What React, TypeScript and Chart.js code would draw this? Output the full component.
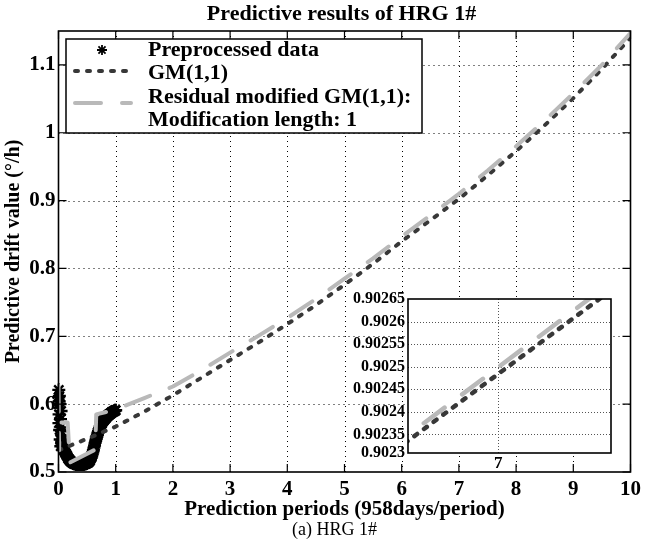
import React, { useEffect, useRef } from 'react';
import { Chart, registerables } from 'chart.js';

Chart.register(...registerables);

const SERIF = '"Liberation Serif", "Times New Roman", Times, serif';

// ---- text ----
const chartTitle = 'Predictive results of HRG 1#';
const captionText = '(a) HRG 1#';
const xAxisTitle = 'Prediction periods (958days/period)';
const yAxisTitle = 'Predictive drift value (°/h)';
const legendTexts = ['Preprocessed data', 'GM(1,1)', 'Residual modified GM(1,1):', 'Modification length: 1'];

// ---- main axes ----
const xRange = [0, 10];
const yRange = [0.5, 1.15];
const xTicks = [0, 1, 2, 3, 4, 5, 6, 7, 8, 9, 10];
const yTicks = [0.5, 0.6, 0.7, 0.8, 0.9, 1, 1.1];

// ---- preprocessed data (asterisks) ----
const dataX = [
  0, 0.0025, 0.005, 0.0075, 0.01, 0.0125, 0.015, 0.02, 0.025, 0.03, 0.035, 0.04, 0.045, 0.05, 0.055, 0.06, 0.07, 0.08,
  0.09, 0.10, 0.11, 0.12, 0.13, 0.14, 0.15, 0.16, 0.17, 0.18, 0.19,
  0.20, 0.21, 0.22, 0.23, 0.24, 0.25, 0.26, 0.27, 0.28, 0.29,
  0.30, 0.31, 0.32, 0.33, 0.34, 0.35, 0.36, 0.37, 0.38, 0.39,
  0.40, 0.41, 0.42, 0.43, 0.44, 0.45, 0.46, 0.47, 0.48, 0.49,
  0.50, 0.51, 0.52, 0.53, 0.54, 0.55, 0.56, 0.57, 0.58, 0.59,
  0.60, 0.61, 0.62, 0.63, 0.64, 0.65, 0.66, 0.67, 0.68, 0.69,
  0.70, 0.71, 0.72, 0.73, 0.74, 0.75, 0.76, 0.77, 0.78, 0.79,
  0.80, 0.81, 0.82, 0.83, 0.84, 0.85, 0.86, 0.87, 0.88, 0.89,
  0.90, 0.91, 0.92, 0.93, 0.94, 0.95, 0.96, 0.97, 0.98, 0.99, 1.00,
];
const dataY = [
  0.600, 0.610, 0.621, 0.572, 0.585, 0.604, 0.612, 0.562, 0.600, 0.548, 0.578, 0.538, 0.590, 0.560, 0.545, 0.542, 0.548, 0.535,
  0.533, 0.532, 0.530, 0.528, 0.527, 0.525, 0.524, 0.522, 0.520, 0.519, 0.518,
  0.517, 0.516, 0.515, 0.515, 0.514, 0.513, 0.513, 0.512, 0.512, 0.512,
  0.512, 0.511, 0.511, 0.511, 0.511, 0.511, 0.511, 0.511, 0.511, 0.511,
  0.511, 0.511, 0.511, 0.511, 0.511, 0.512, 0.512, 0.512, 0.512, 0.513,
  0.513, 0.514, 0.514, 0.515, 0.516, 0.517, 0.519, 0.521, 0.523, 0.526,
  0.529, 0.532, 0.536, 0.539, 0.543, 0.546, 0.549, 0.552, 0.555, 0.558,
  0.560, 0.563, 0.565, 0.567, 0.569, 0.571, 0.572, 0.574, 0.575, 0.576,
  0.577, 0.578, 0.579, 0.580, 0.581, 0.582, 0.583, 0.584, 0.584, 0.585,
  0.586, 0.586, 0.587, 0.588, 0.588, 0.589, 0.589, 0.590, 0.590, 0.591, 0.591,
];

// ---- GM(1,1) ----
const gmX = [0, 0.5, 1, 1.5, 2, 2.5, 3, 3.5, 4, 4.5, 5, 5.5, 6, 6.5, 7, 7.5, 8, 8.5, 9, 9.5, 10];
const gmY = [0.532, 0.549, 0.567, 0.589, 0.613, 0.639, 0.665, 0.691, 0.718, 0.746, 0.776, 0.807, 0.840, 0.871, 0.9025, 0.937, 0.973, 1.011, 1.051, 1.094, 1.140];

// ---- Residual modified GM(1,1) ----
const rmX = [0, 0.01, 0.02, 0.16, 0.20, 0.64, 0.66, 1, 1.5, 2, 2.5, 3, 3.5, 4, 4.5, 5, 5.5, 6, 6.5, 7, 7.5, 8, 8.5, 9, 9.5, 10];
const rmY = [0.627, 0.532, 0.573, 0.573, 0.514, 0.533, 0.585, 0.592, 0.609, 0.626, 0.650, 0.676, 0.701, 0.727, 0.755, 0.785, 0.815, 0.847, 0.878, 0.910, 0.944, 0.980, 1.018, 1.058, 1.100, 1.147];

// ---- inset ----
const insetXRange = [6.9976, 7.003];
const insetYRange = [0.902309, 0.90265];
const insetXTicks = [7];
const insetYTicks = [0.9023, 0.90235, 0.9024, 0.90245, 0.9025, 0.90255, 0.9026, 0.90265];
const insetYTickLabels = ['0.9023', '0.90235', '0.9024', '0.90245', '0.9025', '0.90255', '0.9026', '0.90265'];
const insetGmX = [6.997, 7.0035];
const insetGmY = [0.902299, 0.9027];
const insetRmX = [6.997, 7.0035];
const insetRmY = [0.902311, 0.902718];

// ---- styles ----
const GM_COLOR = '#383838';
const RM_COLOR = '#b9b9b9';
const GM_DASH = [3, 9];
const RM_DASH = [26, 21];
const INSET_GM_DASH = [3.5, 8.5];
const INSET_RM_DASH = [26, 22];

const pts = (xs: number[], ys: number[]) => xs.map((x, i) => ({ x, y: ys[i] }));

function drawGrid(chart: any, xt: number[], yt: number[], color: string, dash: number[]) {
  const { ctx, chartArea, scales } = chart;
  const { left, right, top, bottom } = chartArea;
  ctx.save();
  ctx.strokeStyle = color;
  ctx.lineWidth = 1;
  ctx.setLineDash(dash);
  xt.forEach((v) => {
    const px = Math.round(scales.x.getPixelForValue(v)) + 0.5;
    if (px <= left + 1 || px >= right - 1) return;
    ctx.beginPath();
    ctx.moveTo(px, top);
    ctx.lineTo(px, bottom);
    ctx.stroke();
  });
  yt.forEach((v) => {
    const py = Math.round(scales.y.getPixelForValue(v)) + 0.5;
    if (py <= top + 1 || py >= bottom - 1) return;
    ctx.beginPath();
    ctx.moveTo(left, py);
    ctx.lineTo(right, py);
    ctx.stroke();
  });
  ctx.restore();
}

function drawFrame(chart: any, xt: number[], yt: number[], tickLen: number) {
  const { ctx, chartArea, scales } = chart;
  const { left, right, top, bottom } = chartArea;
  ctx.save();
  ctx.strokeStyle = '#000';
  ctx.lineWidth = 1.6;
  ctx.setLineDash([]);
  ctx.strokeRect(left, top, right - left, bottom - top);
  if (tickLen > 0) {
    ctx.lineWidth = 1.2;
    ctx.beginPath();
    xt.forEach((v) => {
      const px = scales.x.getPixelForValue(v);
      ctx.moveTo(px, bottom);
      ctx.lineTo(px, bottom - tickLen);
      ctx.moveTo(px, top);
      ctx.lineTo(px, top + tickLen);
    });
    yt.forEach((v) => {
      const py = scales.y.getPixelForValue(v);
      ctx.moveTo(left, py);
      ctx.lineTo(left + tickLen, py);
      ctx.moveTo(right, py);
      ctx.lineTo(right - tickLen, py);
    });
    ctx.stroke();
  }
  ctx.restore();
}

function drawStar(ctx: CanvasRenderingContext2D, cx: number, cy: number, r: number) {
  ctx.beginPath();
  ctx.moveTo(cx - r, cy);
  ctx.lineTo(cx + r, cy);
  ctx.moveTo(cx, cy - r);
  ctx.lineTo(cx, cy + r);
  const d = r * Math.SQRT1_2;
  ctx.moveTo(cx - d, cy - d);
  ctx.lineTo(cx + d, cy + d);
  ctx.moveTo(cx - d, cy + d);
  ctx.lineTo(cx + d, cy - d);
  ctx.stroke();
}

const mainDecor = {
  id: 'mainDecor',
  beforeDatasetsDraw(chart: any) {
    drawGrid(chart, xTicks, yTicks, '#000', [1, 4]);
  },
  afterDatasetsDraw(chart: any) {
    drawFrame(chart, xTicks, yTicks, 8);
    const { ctx, chartArea } = chart;
    // legend
    const bx = chartArea.left + 7.5;
    const by = chartArea.top + 8;
    const bw = 356;
    const bh = 94;
    ctx.save();
    ctx.fillStyle = '#fff';
    ctx.fillRect(bx, by, bw, bh);
    ctx.strokeStyle = '#000';
    ctx.lineWidth = 1.5;
    ctx.strokeRect(bx, by, bw, bh);
    const lineX0 = bx + 9;
    const lineX1 = bx + 65;
    const textX = bx + 82;
    const rows = [by + 11, by + 34, by + 58, by + 81];
    ctx.strokeStyle = '#000';
    ctx.lineWidth = 1.8;
    drawStar(ctx, bx + 36, rows[0], 5);
    ctx.lineCap = 'round';
    ctx.lineWidth = 4;
    ctx.strokeStyle = GM_COLOR;
    ctx.setLineDash(GM_DASH);
    ctx.beginPath();
    ctx.moveTo(lineX0, by + 32);
    ctx.lineTo(lineX1, by + 32);
    ctx.stroke();
    ctx.strokeStyle = RM_COLOR;
    ctx.setLineDash(RM_DASH);
    ctx.beginPath();
    ctx.moveTo(lineX0, by + 64);
    ctx.lineTo(lineX1, by + 64);
    ctx.stroke();
    ctx.setLineDash([]);
    ctx.fillStyle = '#000';
    ctx.font = `bold 22px ${SERIF}`;
    ctx.textBaseline = 'middle';
    ctx.textAlign = 'left';
    legendTexts.forEach((t, i) => ctx.fillText(t, textX, rows[i]));
    ctx.restore();
  },
  afterDraw(chart: any) {
    const { ctx, chartArea } = chart;
    ctx.save();
    ctx.fillStyle = '#000';
    ctx.textAlign = 'center';
    ctx.textBaseline = 'middle';
    ctx.font = `bold 22px ${SERIF}`;
    ctx.fillText(chartTitle, (chartArea.left + chartArea.right) / 2 - 3, 14);
    ctx.font = `18px ${SERIF}`;
    ctx.fillText(captionText, chartArea.left + 276, 530);
    ctx.restore();
  },
};

const insetDecor = {
  id: 'insetDecor',
  beforeDraw(chart: any) {
    const { ctx, chartArea } = chart;
    ctx.save();
    ctx.fillStyle = '#fff';
    ctx.fillRect(chartArea.left, chartArea.top, chartArea.right - chartArea.left, chartArea.bottom - chartArea.top);
    ctx.restore();
  },
  beforeDatasetsDraw(chart: any) {
    drawGrid(chart, insetXTicks, insetYTicks, '#555', [1, 2]);
  },
  afterDatasetsDraw(chart: any) {
    drawFrame(chart, insetXTicks, [], 0);
  },
};

const tickFont = { family: SERIF, size: 21, weight: 'bold' as const };
const axisTitleFont = { family: SERIF, size: 21, weight: 'bold' as const };

export default function App() {
  const mainRef = useRef<HTMLCanvasElement>(null);
  const insetRef = useRef<HTMLCanvasElement>(null);

  useEffect(() => {
    document.body.style.margin = '0';
    const main = new Chart(mainRef.current as HTMLCanvasElement, {
      type: 'scatter',
      data: {
        datasets: [
          {
            label: legendTexts[2],
            data: pts(rmX, rmY),
            showLine: true,
            borderColor: RM_COLOR,
            borderWidth: 4,
            borderDash: RM_DASH,
            borderCapStyle: 'round',
            borderJoinStyle: 'round',
            pointRadius: 0,
            order: 0,
          } as any,
          {
            label: legendTexts[1],
            data: pts(gmX, gmY),
            showLine: true,
            borderColor: GM_COLOR,
            borderWidth: 4,
            borderDash: GM_DASH,
            borderCapStyle: 'round',
            borderJoinStyle: 'round',
            pointRadius: 0,
            order: 1,
          } as any,
          {
            label: legendTexts[0],
            data: pts(dataX, dataY),
            showLine: false,
            pointStyle: 'star',
            pointRadius: 6.5,
            pointBorderWidth: 2.4,
            pointBorderColor: '#000',
            pointBackgroundColor: '#000',
            clip: false,
            order: 2,
          } as any,
        ],
      },
      options: {
        animation: false,
        responsive: false,
        maintainAspectRatio: false,
        layout: { padding: { top: 31, right: 12, bottom: 21, left: 0 } },
        plugins: {
          legend: { display: false },
          tooltip: { enabled: false },
          title: { display: false },
        },
        scales: {
          x: {
            type: 'linear',
            min: xRange[0],
            max: xRange[1],
            afterBuildTicks: (s: any) => { s.ticks = xTicks.map((v) => ({ value: v })); },
            afterFit: (s: any) => { s.height = 50; },
            grid: { display: false, drawTicks: false },
            border: { display: false },
            ticks: { color: '#000', font: tickFont, padding: 5, maxRotation: 0, autoSkip: false, callback: (v: any) => String(v) },
            title: { display: true, text: xAxisTitle, color: '#000', font: axisTitleFont, padding: { top: 0, bottom: 0 } },
          },
          y: {
            type: 'linear',
            min: yRange[0],
            max: yRange[1],
            afterBuildTicks: (s: any) => { s.ticks = yTicks.map((v) => ({ value: v })); },
            afterFit: (s: any) => { s.width = 58.5; },
            grid: { display: false, drawTicks: false },
            border: { display: false },
            ticks: { color: '#000', font: tickFont, padding: 3, autoSkip: false, callback: (v: any) => String(v) },
            title: { display: true, text: yAxisTitle, color: '#000', font: { family: SERIF, size: 20, weight: 'bold' }, padding: { top: 2, bottom: 0 } },
          },
        },
      } as any,
      plugins: [mainDecor],
    });

    const inset = new Chart(insetRef.current as HTMLCanvasElement, {
      type: 'scatter',
      data: {
        datasets: [
          {
            data: pts(insetRmX, insetRmY),
            showLine: true,
            borderColor: RM_COLOR,
            borderWidth: 4.5,
            borderDash: INSET_RM_DASH,
            borderCapStyle: 'round',
            pointRadius: 0,
            order: 0,
          } as any,
          {
            data: pts(insetGmX, insetGmY),
            showLine: true,
            borderColor: GM_COLOR,
            borderWidth: 4.5,
            borderDash: INSET_GM_DASH,
            borderCapStyle: 'round',
            pointRadius: 0,
            order: 1,
          } as any,
        ],
      },
      options: {
        animation: false,
        responsive: false,
        maintainAspectRatio: false,
        layout: { padding: { top: 14, right: 19, bottom: 0, left: 0 } },
        plugins: { legend: { display: false }, tooltip: { enabled: false } },
        scales: {
          x: {
            type: 'linear',
            min: insetXRange[0],
            max: insetXRange[1],
            afterBuildTicks: (s: any) => { s.ticks = insetXTicks.map((v) => ({ value: v })); },
            afterFit: (s: any) => { s.height = 27; },
            grid: { display: false, drawTicks: false },
            border: { display: false },
            ticks: { color: '#000', font: { family: SERIF, size: 17, weight: 'bold' }, padding: 0, maxRotation: 0, autoSkip: false, callback: (v: any) => String(v) },
          },
          y: {
            type: 'linear',
            min: insetYRange[0],
            max: insetYRange[1],
            afterBuildTicks: (s: any) => {
              s.ticks = insetYTicks.map((v) => ({ value: Math.max(v, insetYRange[0]) }));
            },
            afterFit: (s: any) => { s.width = 78; },
            grid: { display: false, drawTicks: false },
            border: { display: false },
            ticks: { color: '#000', font: { family: SERIF, size: 16, weight: 'bold' }, padding: 3, autoSkip: false, callback: (_v: any, i: number) => insetYTickLabels[i] },
          },
        },
      } as any,
      plugins: [insetDecor],
    });

    return () => {
      main.destroy();
      inset.destroy();
    };
  }, []);

  return (
    <div style={{ position: 'relative', width: 646, height: 543, background: '#fff' }}>
      <canvas ref={mainRef} width={646} height={543} style={{ position: 'absolute', left: 0, top: 0, width: 646, height: 543 }} />
      <canvas ref={insetRef} width={300} height={195} style={{ position: 'absolute', left: 330, top: 285, width: 300, height: 195 }} />
    </div>
  );
}
